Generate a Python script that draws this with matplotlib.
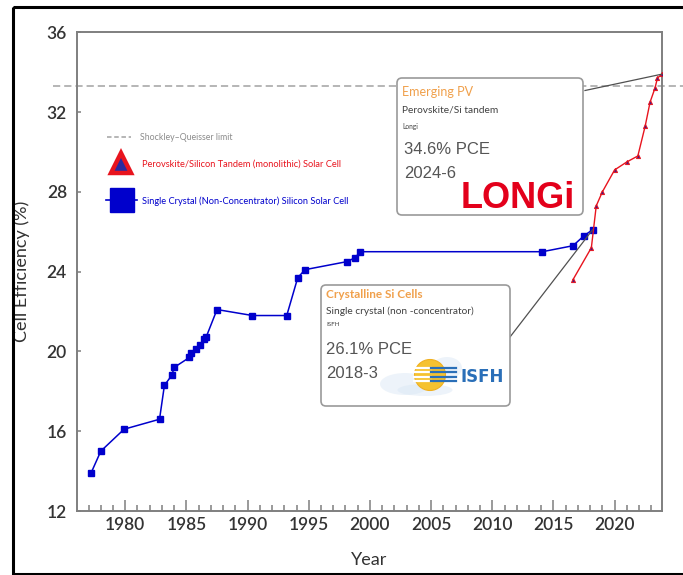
import numpy as np
import matplotlib.pyplot as plt
from matplotlib.patches import FancyBboxPatch, Rectangle, Circle, Ellipse
from matplotlib.lines import Line2D
import matplotlib.transforms as mtransforms

# record efficiencies, single crystal (non-concentrator) Si
si_year = [1977.2, 1978.0, 1979.9, 1982.8, 1983.2, 1983.8, 1984.0, 1985.25, 1985.4,
           1985.8, 1986.1, 1986.4, 1986.6, 1987.5, 1990.4, 1993.2, 1994.1, 1994.7,
           1998.1, 1998.8, 1999.2, 2014.1, 2016.6, 2017.5, 2018.2]
si_eff = [13.9, 15.0, 16.1, 16.6, 18.3, 18.8, 19.2, 19.7, 19.9,
          20.1, 20.3, 20.6, 20.7, 22.1, 21.8, 21.8, 23.7, 24.1,
          24.5, 24.7, 25.0, 25.0, 25.3, 25.8, 26.1]

# perovskite/Si tandem (monolithic)
tandem_year = [2016.6, 2018.1, 2018.5, 2019.0, 2020.0, 2021.0, 2021.9, 2022.5,
               2022.9, 2023.3, 2023.5, 2023.85, 2024.45]
tandem_eff = [23.6, 25.2, 27.3, 28.0, 29.1, 29.5, 29.8, 31.3,
              32.5, 33.2, 33.7, 33.9, 34.6]

sq_limit = 33.3

x_ticks = [1980, 1985, 1990, 1995, 2000, 2005, 2010, 2015, 2020]
y_ticks = [12, 16, 20, 24, 28, 32, 36]

BLUE = '#0000cc'
RED = '#e8141e'
ORANGE = '#f0a04b'
SPINE = '#7f7f7f'

W, H = 683, 575
fig = plt.figure(figsize=(W / 100, H / 100), dpi=100)
ax = fig.add_axes([76.7 / W, 1 - 511 / H, 585 / W, 478.7 / H])

ax.plot(si_year, si_eff, color=BLUE, lw=1.1, marker='s', ms=3.8,
        mfc=BLUE, mec=BLUE, zorder=3)
ax.plot(tandem_year, tandem_eff, color=RED, lw=1.0, marker='^', ms=3.0,
        mfc='#4a1a80', mec=RED, mew=0.7, zorder=3)

# Shockley-Queisser limit, runs past both spines
trans = mtransforms.blended_transform_factory(ax.transAxes, ax.transData)
ax.plot([-0.04, 1.1], [sq_limit, sq_limit], transform=trans, clip_on=False,
        color='#b0b0b0', lw=1.3, dashes=(4, 2.2), zorder=1)

ax.set_xlim(1976.03, 2023.85)
ax.set_ylim(12, 36)
ax.set_xticks(x_ticks)
ax.set_xticks(np.arange(1977, 2024), minor=True)
ax.set_yticks(y_ticks)
ax.tick_params(axis='x', which='major', direction='in', length=8, width=1.1,
               color=SPINE, labelsize=12.5, labelcolor='#333333', pad=4)
ax.tick_params(axis='x', which='minor', direction='in', length=4, width=1.1,
               color=SPINE)
ax.tick_params(axis='y', direction='in', length=3, width=1.1, color=SPINE,
               labelsize=12.5, labelcolor='#333333', pad=7)
for lab in ax.get_xticklabels() + ax.get_yticklabels():
    lab.set_family('Lato')
    lab.set_fontweight('semibold')
for sp in ax.spines.values():
    sp.set_color(SPINE)
    sp.set_linewidth(1.4)

ax.set_xlabel('Year', family='Lato', fontsize=13, color='#333333', labelpad=14)
ax.set_ylabel('Cell Efficiency (%)', family='Lato', fontsize=13,
              color='#333333', labelpad=12)

# overlay in figure pixels for the legend, callouts and frame
ov = fig.add_axes([0, 0, 1, 1], zorder=5)
ov.set_xlim(0, W)
ov.set_ylim(H, 0)
ov.axis('off')
ov.patch.set_alpha(0)

ov.add_patch(Rectangle((12.7, 6.7), 700, 567.5, fill=False, ec='black', lw=2.2,
                       clip_on=False))

# legend
ov.add_line(Line2D([107, 131], [137, 137], color='#b0b0b0', lw=1.3, dashes=(2.5, 1.5)))
ov.text(140, 137, 'Shockley\u2013Queisser limit', family='Lato', fontsize=6.3,
        color='#8c8c8c', va='center')
ov.plot([121], [163], marker='^', ms=14, mfc='#2a2aa0', mec=RED, mew=3.2)
ov.text(142, 164, 'Perovskite/Silicon Tandem (monolithic) Solar Cell', family='Lato',
        fontsize=6.7, color=RED, va='center')
ov.add_line(Line2D([106, 137], [200, 200], color=BLUE, lw=1.2))
ov.plot([122], [200], marker='s', ms=17, mfc=BLUE, mec=BLUE)
ov.text(142, 201, 'Single Crystal (Non-Concentrator) Silicon Solar Cell', family='Lato',
        fontsize=6.7, color=BLUE, va='center')

# callout boxes
def callout(x0, y0, x1, y1):
    ov.add_patch(FancyBboxPatch((x0, y0), x1 - x0, y1 - y0,
                                boxstyle='round,pad=0,rounding_size=5',
                                fc='white', ec='#9a9a9a', lw=1.2, zorder=4))

callout(397, 78, 583, 215)
ov.text(402, 92, 'Emerging PV', family='Lato', fontsize=9, color=ORANGE,
        va='center', zorder=5)
ov.text(402, 110, 'Perovskite/Si tandem', family='Lato', fontsize=7.3,
        color='#404040', va='center', zorder=5)
ov.text(402, 126, 'Longi', family='Lato', fontsize=4.8, color='#404040',
        va='center', zorder=5)
ov.text(404, 149, '34.6% PCE', family='Liberation Sans', fontsize=12,
        color='#555555', va='center', zorder=5)
ov.text(404, 173, '2024-6', family='Liberation Sans', fontsize=12,
        color='#555555', va='center', zorder=5)
ov.text(461, 208, 'LONGi', family='Liberation Sans', fontweight='bold',
        fontsize=26, color='#e3001b', va='baseline', zorder=5)

callout(321, 285, 510, 406)
ov.text(326, 295, 'Crystalline Si Cells', family='Lato', fontweight='bold',
        fontsize=8.5, color=ORANGE, va='center', zorder=5)
ov.text(326, 311, 'Single crystal (non -concentrator)', family='Lato',
        fontsize=7.3, color='#404040', va='center', zorder=5)
ov.text(326, 324, 'ISFH', family='Lato', fontsize=4.5, color='#404040',
        va='center', zorder=5)
ov.text(326, 349, '26.1% PCE', family='Liberation Sans', fontsize=12,
        color='#555555', va='center', zorder=5)
ov.text(326, 374, '2018-3', family='Liberation Sans', fontsize=12,
        color='#555555', va='center', zorder=5)

# ISFH logo
for cx, cy, w, h in [(405, 384, 50, 22), (425, 390, 55, 12), (447, 368, 30, 22)]:
    ov.add_patch(Ellipse((cx, cy), w, h, fc='#d8e6f4', ec='none', alpha=0.45, zorder=5))
ov.add_patch(Circle((430, 375), 15.5, fc='#f5c230', ec='#f0b020', lw=0.8, zorder=6))
for yy in [367.5, 372, 376.5, 381]:
    ov.add_line(Line2D([414, 431], [yy, yy], color='white', lw=1.6, zorder=7))
    ov.add_line(Line2D([431, 456], [yy, yy], color='#2a6fb8', lw=1.6, zorder=7))
ov.text(460, 377, 'ISFH', family='Liberation Sans Narrow', fontweight='bold',
        fontsize=12, color='#2a6fb8', va='center', zorder=7)

# leader lines from the boxes to the record points
disp = ax.transData
def leader(x_box, y_box, xd, yd):
    px, py = disp.transform((xd, yd))
    ov.add_line(Line2D([x_box, px], [y_box, H - py], color='#505050', lw=0.9,
                       zorder=3))

leader(585, 90.5, tandem_year[-2], tandem_eff[-2])
leader(510, 337, si_year[-1], si_eff[-1])

fig.savefig('out.png', dpi=100)
